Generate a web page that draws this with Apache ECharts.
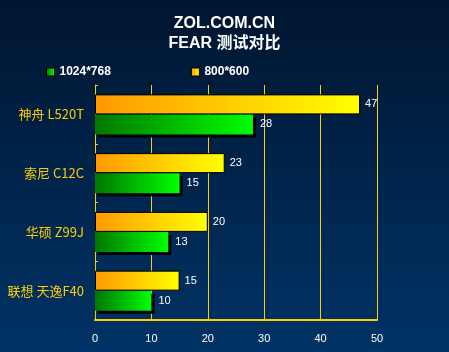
<!DOCTYPE html>
<html>
<head>
<meta charset="utf-8">
<script src="https://cdn.jsdelivr.net/npm/echarts@6/dist/echarts.min.js"></script>
<style>
  html, body { margin: 0; padding: 0; }
  #chart { width: 449px; height: 352px; }
</style>
</head>
<body>
<div id="chart"></div>
<script>
const categories = ['神舟 L520T', '索尼 C12C', '华硕 Z99J', '联想 天逸F40'];
const res1024 = [28, 15, 13, 10];
const res800 = [47, 23, 20, 15];
const xTicks = [0, 10, 20, 30, 40, 50];

const chart = echarts.init(document.getElementById('chart'), null, { renderer: 'canvas' });
const yellow = '#FFCC00';

chart.setOption({
    animation: false,
    backgroundColor: new echarts.graphic.LinearGradient(0, 0, 0, 1, [
        { offset: 0, color: '#001530' },
        { offset: 1, color: '#003366' }
    ]),
    title: {
        text: 'ZOL.COM.CN\nFEAR 测试对比',
        left: 'center',
        top: 9,
        textStyle: {
            color: '#fff', fontSize: 16, fontWeight: 'bold', lineHeight: 20,
            fontFamily: 'Liberation Sans, Noto Sans CJK SC'
        }
    },
    legend: {
        data: ['1024*768', '800*600'],
        left: 46,
        top: 66,
        padding: 0,
        itemGap: 80,
        itemWidth: 8,
        itemHeight: 8,
        icon: 'rect',
        itemStyle: { borderColor: '#000', borderWidth: 1, shadowBlur: 0, shadowOffsetX: 0, shadowOffsetY: 0 },
        textStyle: { color: '#fff', fontSize: 12, fontWeight: 'bold', fontFamily: 'Liberation Sans' }
    },
    grid: { left: 95, right: 72, top: 85, bottom: 32 },
    xAxis: {
        type: 'value',
        min: xTicks[0],
        max: xTicks[xTicks.length - 1],
        interval: 10,
        axisLine: { show: true, lineStyle: { color: yellow, width: 2 } },
        axisTick: { show: false },
        axisLabel: { color: '#fff', fontSize: 11, margin: 13, fontFamily: 'Liberation Sans' },
        splitLine: { show: true, lineStyle: { color: yellow, width: 1 } }
    },
    yAxis: {
        type: 'category',
        data: categories,
        inverse: true,
        axisLine: { show: true, lineStyle: { color: yellow, width: 1 } },
        axisTick: { show: true, inside: true, length: 3, lineStyle: { color: yellow } },
        axisLabel: { color: yellow, fontSize: 13, margin: 11, fontFamily: 'Noto Sans CJK SC' }
    },
    series: [
        {
            name: '800*600',
            type: 'bar',
            data: res800,
            barWidth: 20,
            barGap: '0%',
            z: 3,
            itemStyle: {
                color: new echarts.graphic.LinearGradient(0, 0, 1, 0, [
                    { offset: 0, color: '#FF9900' },
                    { offset: 1, color: '#FFFF00' }
                ]),
                borderColor: '#000',
                borderWidth: 1
            },
            label: { show: true, position: 'right', distance: 5, color: '#fff', fontSize: 11, fontFamily: 'Liberation Sans' }
        },
        {
            name: '1024*768',
            type: 'bar',
            data: res1024,
            barWidth: 20,
            barGap: '0%',
            z: 2,
            itemStyle: {
                color: new echarts.graphic.LinearGradient(0, 0, 1, 0, [
                    { offset: 0, color: '#007700' },
                    { offset: 1, color: '#00FF00' }
                ]),
                borderWidth: 0,
                shadowColor: '#000',
                shadowOffsetX: 3,
                shadowOffsetY: 3,
                shadowBlur: 0
            },
            label: { show: true, position: 'right', distance: 7, color: '#fff', fontSize: 11, fontFamily: 'Liberation Sans' }
        }
    ]
});
</script>
</body>
</html>
